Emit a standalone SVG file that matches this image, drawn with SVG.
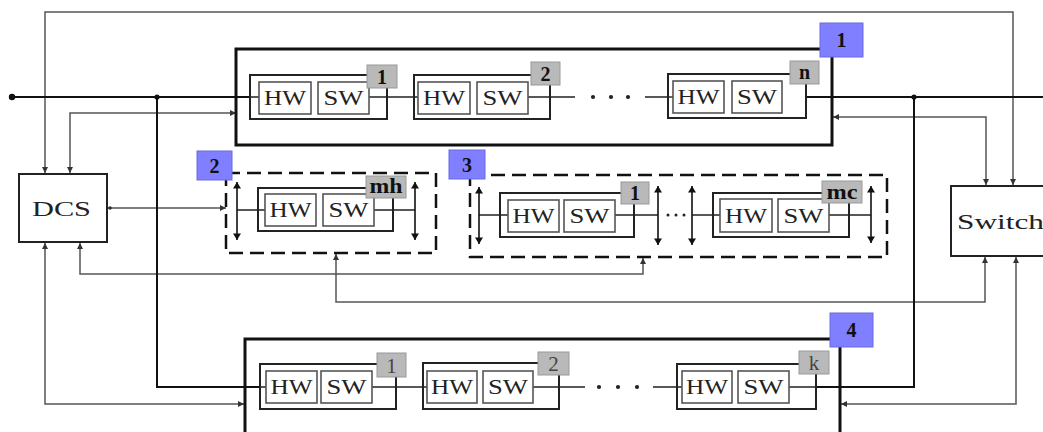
<svg xmlns="http://www.w3.org/2000/svg" width="1043" height="432" viewBox="0 0 1043 432">
<defs>
<marker id="ah" viewBox="0 0 8 8" refX="8" refY="4" markerWidth="6" markerHeight="6" markerUnits="userSpaceOnUse" orient="auto-start-reverse"><path d="M0,0 L8,4 L0,8 z" fill="#333"/></marker>
<marker id="da" viewBox="0 0 8 10" refX="8" refY="5" markerWidth="9" markerHeight="8" markerUnits="userSpaceOnUse" orient="auto-start-reverse"><path d="M0,0 L8,5 L0,10 z" fill="#111"/></marker>
<style>
.box{fill:none;stroke:#111;stroke-width:3}
.dash{fill:none;stroke:#111;stroke-width:2.5;stroke-dasharray:14 7}
.mod{fill:#fff;stroke:#222;stroke-width:2}
.hs{fill:#fff;stroke:#555;stroke-width:1.6}
.lbl{fill:#b9b9b9;stroke:#999;stroke-width:1}
.blue{fill:#7f7fff;stroke:#6a6ae0;stroke-width:1}
.t{font-family:"Liberation Serif",serif;font-size:21px;fill:#222;text-anchor:middle}
.tb{font-family:"Liberation Serif",serif;font-size:20px;font-weight:bold;fill:#111;text-anchor:middle}
.tr{font-family:"Liberation Serif",serif;font-size:21px;fill:#444;text-anchor:middle}
.big{font-family:"Liberation Serif",serif;font-size:21px;fill:#222}
.bus{fill:none;stroke:#111;stroke-width:2}
.wire{fill:none;stroke:#222;stroke-width:1.4}
.conn{fill:none;stroke:#555;stroke-width:1.5}
.darr{stroke:#111;stroke-width:1.6}
.node{fill:#fff;stroke:#222;stroke-width:2}
</style>
</defs>

<g id="connectors">
<path class="conn" d="M45,173 V12 H1013 V185" marker-start="url(#ah)" marker-end="url(#ah)"/>
<path class="conn" d="M70,173 V113 H236" marker-start="url(#ah)" marker-end="url(#ah)"/>
<path class="conn" d="M833,117 H986 V185" marker-start="url(#ah)" marker-end="url(#ah)"/>
<path class="conn" d="M108,208 H226" marker-end="url(#ah)"/>
<circle cx="110" cy="208" r="1.8" fill="#333"/>
<path class="conn" d="M80,243 V274 H643 V258" marker-start="url(#ah)" marker-end="url(#ah)"/>
<path class="conn" d="M45,243 V404 H244" marker-start="url(#ah)" marker-end="url(#ah)"/>
<path class="conn" d="M336,254 V302 H985 V257" marker-start="url(#ah)" marker-end="url(#ah)"/>
<path class="conn" d="M841,404 H1016 V257" marker-start="url(#ah)" marker-end="url(#ah)"/>
<path class="bus" d="M12,97 H259"/>
<path class="bus" d="M157,97 V387 H266"/>
<path class="bus" d="M782,97 H1043"/>
<path class="bus" d="M914,97 V387 H789"/>
<circle cx="12" cy="97" r="3.2" fill="#111"/>
<circle cx="157" cy="97" r="2.6" fill="#111"/>
<circle cx="914" cy="97" r="2.6" fill="#111"/>
<path class="wire" d="M369,97 H418 M528,97 H575 M645,97 H673"/>
<g fill="#222"><circle cx="593" cy="97" r="2.1"/><circle cx="611" cy="97" r="2.1"/><circle cx="628" cy="97" r="2.1"/></g>
<path class="wire" d="M372,387 H427 M533,387 H585 M653,387 H682"/>
<g fill="#222"><circle cx="599" cy="387" r="2.1"/><circle cx="618" cy="387" r="2.1"/><circle cx="637" cy="387" r="2.1"/></g>
<path class="wire" d="M237,210 H265 M374,210 H415"/>
<path class="wire" d="M479,215 H508 M615,215 H658 M692,215 H720 M829,215 H871"/>
<g fill="#222"><circle cx="668" cy="215" r="1.5"/><circle cx="676" cy="215" r="1.5"/><circle cx="684" cy="215" r="1.5"/></g>
<line class="darr" x1="237" y1="182" x2="237" y2="240" marker-start="url(#da)" marker-end="url(#da)"/>
<line class="darr" x1="415" y1="182" x2="415" y2="240" marker-start="url(#da)" marker-end="url(#da)"/>
<line class="darr" x1="479" y1="187" x2="479" y2="244" marker-start="url(#da)" marker-end="url(#da)"/>
<line class="darr" x1="658" y1="186" x2="658" y2="245" marker-start="url(#da)" marker-end="url(#da)"/>
<line class="darr" x1="692" y1="186" x2="692" y2="245" marker-start="url(#da)" marker-end="url(#da)"/>
<line class="darr" x1="871" y1="186" x2="871" y2="243" marker-start="url(#da)" marker-end="url(#da)"/>
</g>

<g id="DCS">
<rect class="node" x="19" y="174" width="88" height="68"/>
<text class="big" x="32" y="216" textLength="59" lengthAdjust="spacingAndGlyphs">DCS</text>
</g>
<g id="Switch">
<rect class="node" x="951" y="186" width="100" height="70"/>
<text class="big" x="957" y="229" font-size="23" textLength="87" lengthAdjust="spacingAndGlyphs">Switch</text>
</g>

<g id="group1">
<rect class="box" x="236" y="49" width="596" height="96"/>
<rect class="blue" x="820" y="23" width="43" height="34"/>
<text class="tb" x="841.5" y="47">1</text>
</g>
<g id="group2">
<rect class="dash" x="226" y="173" width="210" height="80"/>
<rect class="blue" x="197" y="151" width="35" height="29"/>
<text class="tb" x="214.5" y="172.5">2</text>
</g>
<g id="group3">
<rect class="dash" x="470" y="175" width="417" height="82"/>
<rect class="blue" x="449" y="150" width="36" height="29"/>
<text class="tb" x="467" y="171.5">3</text>
</g>
<g id="group4">
<path class="box" d="M245,440 V339 H840 V440"/>
<rect class="blue" x="830" y="313" width="43" height="34"/>
<text class="tb" x="851.5" y="337">4</text>
</g>

<g id="r1m1">
<rect class="mod" x="250" y="75" width="137" height="44"/>
<path class="wire" d="M250,97 H259 M369,97 H387"/>
<rect class="hs" x="259" y="82" width="52" height="32"/><text class="t" x="285" y="105" textLength="42" lengthAdjust="spacingAndGlyphs">HW</text>
<rect class="hs" x="318" y="82" width="51" height="32"/><text class="t" x="343.5" y="105" textLength="40" lengthAdjust="spacingAndGlyphs">SW</text>
<rect class="lbl" x="367" y="65" width="30" height="23"/><text class="tb" x="382" y="84">1</text>
</g>
<g id="r1m2">
<rect class="mod" x="414" y="75" width="136" height="44"/>
<path class="wire" d="M414,97 H418 M528,97 H550"/>
<rect class="hs" x="418" y="82" width="52" height="32"/><text class="t" x="444" y="105" textLength="42" lengthAdjust="spacingAndGlyphs">HW</text>
<rect class="hs" x="477" y="82" width="51" height="32"/><text class="t" x="502.5" y="105" textLength="40" lengthAdjust="spacingAndGlyphs">SW</text>
<rect class="lbl" x="531" y="62" width="29" height="23"/><text class="tb" x="545.5" y="81">2</text>
</g>
<g id="r1mn">
<rect class="mod" x="668" y="74" width="138" height="44"/>
<path class="wire" d="M668,97 H673"/>
<rect class="hs" x="673" y="81" width="51" height="32"/><text class="t" x="698.5" y="104" textLength="42" lengthAdjust="spacingAndGlyphs">HW</text>
<rect class="hs" x="732" y="81" width="50" height="32"/><text class="t" x="757" y="104" textLength="40" lengthAdjust="spacingAndGlyphs">SW</text>
<rect class="lbl" x="790" y="61" width="29" height="23"/><text class="tb" x="804.5" y="79">n</text>
</g>
<g id="r2mh">
<rect class="mod" x="258" y="188" width="135" height="43"/>
<path class="wire" d="M258,210 H265 M374,210 H393"/>
<rect class="hs" x="265" y="194" width="51" height="32"/><text class="t" x="290.5" y="217" textLength="42" lengthAdjust="spacingAndGlyphs">HW</text>
<rect class="hs" x="323" y="194" width="51" height="32"/><text class="t" x="348.5" y="217" textLength="40" lengthAdjust="spacingAndGlyphs">SW</text>
<rect class="lbl" x="366" y="176" width="40" height="22"/><text class="tb" x="386" y="193" textLength="33" lengthAdjust="spacingAndGlyphs">mh</text>
</g>
<g id="r3m1">
<rect class="mod" x="500" y="193" width="134" height="44"/>
<path class="wire" d="M500,215 H508 M615,215 H634"/>
<rect class="hs" x="508" y="200" width="51" height="32"/><text class="t" x="533.5" y="223" textLength="42" lengthAdjust="spacingAndGlyphs">HW</text>
<rect class="hs" x="564" y="200" width="51" height="32"/><text class="t" x="589.5" y="223" textLength="40" lengthAdjust="spacingAndGlyphs">SW</text>
<rect class="lbl" x="621" y="182" width="28" height="22"/><text class="tb" x="635" y="200">1</text>
</g>
<g id="r3mc">
<rect class="mod" x="713" y="193" width="136" height="44"/>
<path class="wire" d="M713,215 H720 M829,215 H849"/>
<rect class="hs" x="720" y="199" width="52" height="33"/><text class="t" x="746" y="223" textLength="42" lengthAdjust="spacingAndGlyphs">HW</text>
<rect class="hs" x="778" y="199" width="51" height="33"/><text class="t" x="803.5" y="223" textLength="40" lengthAdjust="spacingAndGlyphs">SW</text>
<rect class="lbl" x="822" y="181" width="40" height="22"/><text class="tb" x="842" y="198.5" textLength="31" lengthAdjust="spacingAndGlyphs">mc</text>
</g>
<g id="r4m1">
<rect class="mod" x="260" y="364" width="136" height="45"/>
<path class="wire" d="M260,387 H266 M372,387 H396"/>
<rect class="hs" x="266" y="371" width="51" height="32"/><text class="t" x="291.5" y="394" textLength="42" lengthAdjust="spacingAndGlyphs">HW</text>
<rect class="hs" x="321" y="371" width="51" height="32"/><text class="t" x="346.5" y="394" textLength="40" lengthAdjust="spacingAndGlyphs">SW</text>
<rect class="lbl" x="377" y="353" width="29" height="24"/><text class="tr" x="391.5" y="373">1</text>
</g>
<g id="r4m2">
<rect class="mod" x="423" y="363" width="136" height="46"/>
<path class="wire" d="M423,387 H427 M533,387 H559"/>
<rect class="hs" x="427" y="371" width="50" height="32"/><text class="t" x="452" y="394" textLength="42" lengthAdjust="spacingAndGlyphs">HW</text>
<rect class="hs" x="483" y="371" width="50" height="32"/><text class="t" x="508" y="394" textLength="40" lengthAdjust="spacingAndGlyphs">SW</text>
<rect class="lbl" x="538" y="352" width="31" height="23"/><text class="tr" x="553.5" y="371">2</text>
</g>
<g id="r4mk">
<rect class="mod" x="677" y="364" width="139" height="45"/>
<path class="wire" d="M677,387 H682 M789,387 H816"/>
<rect class="hs" x="682" y="371" width="50" height="32"/><text class="t" x="707" y="394" textLength="42" lengthAdjust="spacingAndGlyphs">HW</text>
<rect class="hs" x="738" y="371" width="51" height="32"/><text class="t" x="763.5" y="394" textLength="40" lengthAdjust="spacingAndGlyphs">SW</text>
<rect class="lbl" x="799" y="351" width="30" height="23"/><text class="tr" x="814" y="370">k</text>
</g>
</svg>
